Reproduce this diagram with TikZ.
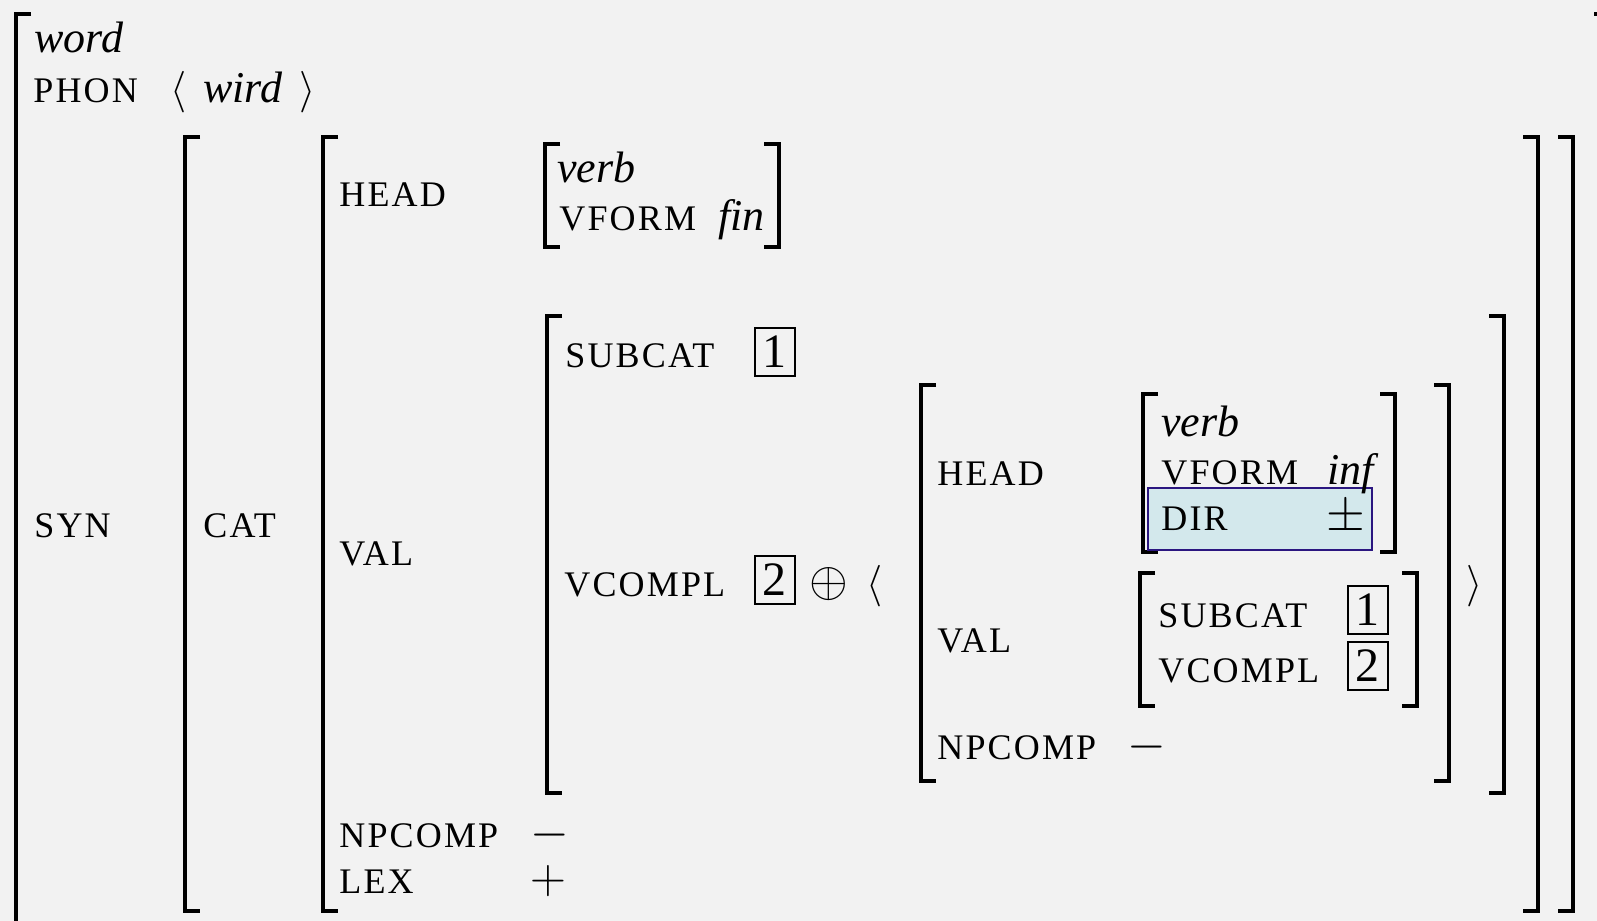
\documentclass[tikz,border=0pt]{standalone}
\usepackage{fontspec}
\setmainfont{Liberation Serif}
\newfontfamily\featfont[LetterSpace=6]{Liberation Serif}
\definecolor{paper}{HTML}{F2F2F2}
\definecolor{dirfill}{HTML}{D3E8EC}
\definecolor{dirline}{HTML}{2B1680}
\begin{document}
\begin{tikzpicture}[x=0.5pt,y=-0.5pt,
  brk/.style={line width=1.6pt, line join=miter},
  feat/.style={anchor=base west, inner sep=0pt, font=\fontsize{18}{21}\featfont},
  typ/.style={anchor=base west, inner sep=0pt, font=\fontsize{22}{26}\selectfont\itshape},
  sym/.style={anchor=base west, inner sep=0pt, font=\fontsize{22}{26}\selectfont},
  op/.style={anchor=base west, inner sep=0pt, font=\fontsize{24.88}{28}\selectfont},
  tag/.style={draw, line width=0.75pt, minimum width=20pt, minimum height=24pt,
    inner sep=0pt, anchor=north west, font=\fontsize{24}{28}\selectfont},
  dirbox/.style={draw=dirline, fill=dirfill, line width=1pt}]
\useasboundingbox (0,0) rectangle (1597,921);
\clip (0,0) rectangle (1597,921);
\fill[paper] (0,0) rectangle (1597,921);

% bracket pairs: left x, right x, top, bottom
\newcommand\avmbrackets[4]{%
  \draw[brk] (#1+15,#3) -- (#1,#3) -- (#1,#4) -- (#1+15,#4);
  \draw[brk] (#2-15,#3) -- (#2,#3) -- (#2,#4) -- (#2-15,#4);}

\avmbrackets{16}{1609}{14}{940}     % word
\avmbrackets{185}{1573}{137}{911}   % SYN value
\avmbrackets{323}{1538}{137}{911}   % CAT value
\avmbrackets{545}{779}{144}{247}    % HEAD value
\avmbrackets{547}{1504}{316}{793}   % VAL value
\avmbrackets{921}{1449}{385}{781}   % list element
\avmbrackets{1143}{1395}{394}{552}  % inner HEAD value
\avmbrackets{1140}{1417}{573}{706}  % inner VAL value

% highlighted DIR feature
\draw[dirbox] (1148,488) rectangle (1372,550);

% top level
\node[typ]  (word)  at (34,52)   {word};
\node[feat] (phon)  at (33,102)  {PHON};
\node[sym]  (la0)   at (170,102) {$\langle$};
\node[typ]  (wird)  at (203,102) {wird};
\node[sym]  (ra0)   at (299,102) {$\rangle$};
\node[feat] (syn)   at (34,537)  {SYN};

% SYN value
\node[feat] (cat)   at (203,537) {CAT};

% CAT value
\node[feat] (head1)   at (339,206) {HEAD};
\node[typ]  (verb1)   at (557,182) {verb};
\node[feat] (vform1)  at (559,230) {VFORM};
\node[typ]  (fin)     at (718,230) {fin};
\node[feat] (val1)    at (339,565) {VAL};
\node[feat] (npcomp1) at (339,847) {NPCOMP};
\node[op]   (minus1)  at (530,847) {$-$};
\node[feat] (lex)     at (339,893) {LEX};
\node[op]   (plus)    at (530,893) {$+$};

% VAL value
\node[feat] (subcat1) at (565,367) {SUBCAT};
\node[tag]  (tagA)    at (754,327) {1};
\node[feat] (vcompl1) at (564,596) {VCOMPL};
\node[tag]  (tagB)    at (754,555) {2};
\node[op]   (oplus)   at (809,596) {$\oplus$};
\node[sym]  (la1)     at (866,596) {$\langle$};
\node[sym]  (ra1)     at (1466,596) {$\rangle$};

% list element
\node[feat] (head2)   at (937,485)  {HEAD};
\node[typ]  (verb2)   at (1161,436) {verb};
\node[feat] (vform2)  at (1161,484) {VFORM};
\node[typ]  (inf)     at (1327,484) {inf};
\node[feat] (dir)     at (1161,530) {DIR};
\node[op]   (pm)      at (1326,530) {$\pm$};
\node[feat] (val2)    at (937,652)  {VAL};
\node[feat] (subcat2) at (1158,627) {SUBCAT};
\node[tag]  (tagC)    at (1347,585) {1};
\node[feat] (vcompl2) at (1158,682) {VCOMPL};
\node[tag]  (tagD)    at (1347,641) {2};
\node[feat] (npcomp2) at (937,759)  {NPCOMP};
\node[op]   (minus2)  at (1127,759) {$-$};
\end{tikzpicture}
\end{document}
